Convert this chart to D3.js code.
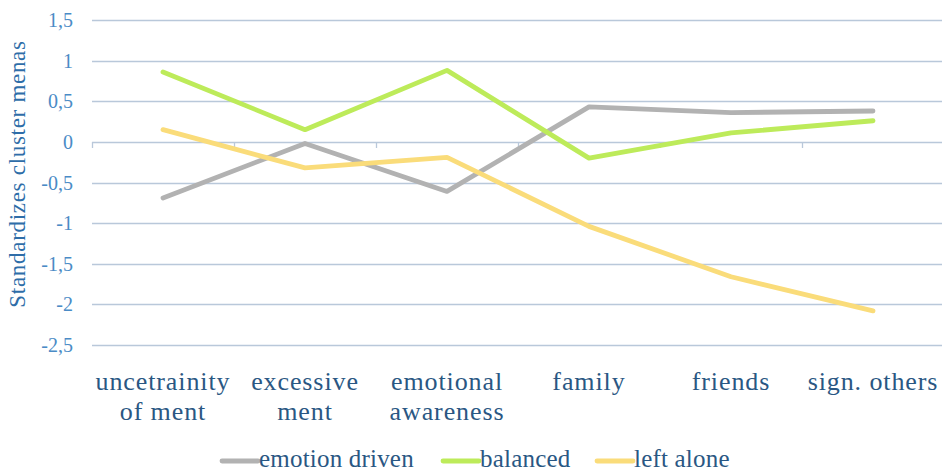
<!DOCTYPE html>
<html><head><meta charset="utf-8">
<script src="https://cdn.jsdelivr.net/npm/d3@7/dist/d3.min.js"></script>
<style>body{margin:0;background:#fff}svg{display:block}</style>
</head><body><svg id="c" width="942" height="471"></svg>
<script>
const categories = [["uncetrainity","of ment"],["excessive","ment"],["emotional","awareness"],["family"],["friends"],["sign. others"]];
const seriesNames = ["emotion driven","balanced","left alone"];
const emotionDriven = [-0.69,-0.02,-0.61,0.43,0.36,0.38];
const balanced = [0.86,0.15,0.88,-0.20,0.11,0.26];
const leftAlone = [0.15,-0.32,-0.19,-1.04,-1.66,-2.08];
const yTicks = [1.5,1,0.5,0,-0.5,-1,-1.5,-2,-2.5];
const colors = ["#B2B2B2","#BDEB5A","#FADC7A"];
const seriesValues = [emotionDriven, balanced, leftAlone];

const svg = d3.select("#c");
const FF = "'Liberation Serif', 'Times New Roman', serif";
const x = d3.scaleBand().domain(d3.range(categories.length)).range([92,944]);
const y = d3.scaleLinear().domain([-2.5,1.5]).range([345,20]);

// gridlines
svg.append("g").selectAll("line").data(yTicks).join("line")
  .attr("x1",92).attr("x2",942).attr("y1",d=>Math.round(y(d))+0.5).attr("y2",d=>Math.round(y(d))+0.5)
  .attr("stroke","#B9C8DA").attr("stroke-width",1.3);
// category ticks on zero line
const tickPos = d3.range(categories.length+1).map(i => i<categories.length ? x(i) : x(categories.length-1)+x.bandwidth());
svg.append("g").selectAll("line").data(tickPos).join("line")
  .attr("x1",d=>Math.round(d)+0.5).attr("x2",d=>Math.round(d)+0.5)
  .attr("y1",Math.round(y(0))).attr("y2",Math.round(y(0))+6)
  .attr("stroke","#B9C8DA").attr("stroke-width",1.3);

// y tick labels
const fmt = d => String(d).replace(".",",");
svg.append("g").selectAll("text").data(yTicks).join("text")
  .attr("x",73).attr("y",d=>y(d)).attr("dy","0.35em").attr("text-anchor","end")
  .style("font-family",FF).attr("font-size",20).attr("fill","#4A8BC6").text(fmt);

// y title
svg.append("text").attr("transform","translate(25,174) rotate(-90)").attr("text-anchor","middle")
  .style("font-family",FF).attr("font-size",23).attr("letter-spacing",0.7).attr("fill","#2E6DA8").text("Standardizes cluster menas");

// x labels
const xl = svg.append("g").selectAll("text").data(categories).join("text")
  .attr("text-anchor","middle").style("font-family",FF).attr("font-size",26)
  .attr("letter-spacing",0.9).attr("fill","#2A5783");
xl.each(function(d,i){
  const t = d3.select(this);
  d.forEach((s,j)=>t.append("tspan").attr("x",x(i)+x.bandwidth()/2).attr("y",390+j*30).text(s));
});

// lines
const line = d3.line().x((d,i)=>x(i)+x.bandwidth()/2).y(d=>y(d));
svg.append("g").selectAll("path").data(seriesValues).join("path")
  .attr("d",line).attr("fill","none").attr("stroke",(d,i)=>colors[i])
  .attr("stroke-width",4.8).attr("stroke-linejoin","round").attr("stroke-linecap","round");

// legend
const legX = [222,443,597];
const lg = svg.append("g").selectAll("g").data(seriesNames).join("g")
  .attr("transform",(d,i)=>`translate(${legX[i]},461)`);
lg.append("line").attr("x1",0).attr("x2",36).attr("y1",0).attr("y2",0)
  .attr("stroke",(d,i)=>colors[i]).attr("stroke-width",4.8).attr("stroke-linecap","round");
lg.append("text").attr("x",37).attr("y",6).style("font-family",FF)
  .attr("font-size",25).attr("letter-spacing",0.2).attr("fill","#2A5783").text(d=>d);
</script></body></html>
